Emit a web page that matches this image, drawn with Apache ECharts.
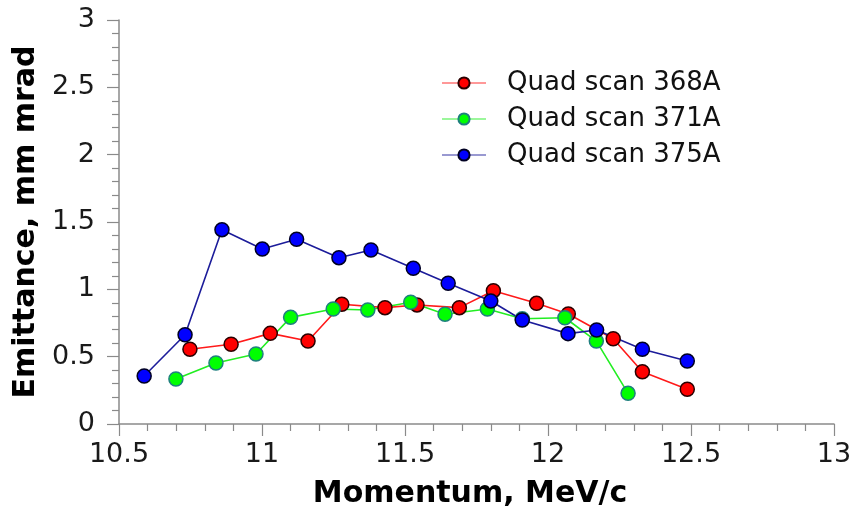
<!DOCTYPE html>
<html>
<head>
<meta charset="utf-8">
<script src="https://cdn.jsdelivr.net/npm/echarts@6/dist/echarts.min.js"></script>
<style>
  html, body { margin: 0; padding: 0; background: #ffffff; }
  #chart { width: 854px; height: 507px; }
</style>
</head>
<body>
<div id="chart"></div>
<script>
// Emittance versus beam momentum for three quadrupole scans
const seriesNames = ['Quad scan 368A', 'Quad scan 371A', 'Quad scan 375A'];

const scan368 = [
  [10.748, 0.555], [10.892, 0.592], [11.029, 0.673], [11.161, 0.616],
  [11.279, 0.889], [11.430, 0.864], [11.542, 0.884], [11.690, 0.864],
  [11.809, 0.990], [11.960, 0.896], [12.071, 0.817], [12.228, 0.633],
  [12.330, 0.388], [12.487, 0.258]
];

const scan371 = [
  [10.699, 0.334], [10.839, 0.453], [10.979, 0.520], [11.100, 0.792],
  [11.249, 0.854], [11.370, 0.847], [11.520, 0.904], [11.640, 0.815],
  [11.788, 0.854], [11.910, 0.782], [12.059, 0.789], [12.169, 0.616],
  [12.280, 0.228]
];

const scan375 = [
  [10.588, 0.356], [10.731, 0.663], [10.860, 1.443], [11.001, 1.299],
  [11.121, 1.372], [11.269, 1.235], [11.381, 1.292], [11.529, 1.156],
  [11.651, 1.045], [11.800, 0.913], [11.910, 0.772], [12.070, 0.671],
  [12.170, 0.698], [12.330, 0.555], [12.487, 0.468]
];

const FONT = 'DejaVu Sans';
const axisGrey = '#8a8a8a';

function makeSeries(name, data, fill, border, line) {
  return {
    name: name,
    type: 'line',
    data: data,
    symbol: 'circle',
    symbolSize: 14,
    itemStyle: { color: fill, borderColor: border, borderWidth: 1.5 },
    lineStyle: { color: line, width: 1.6 },
    emphasis: { disabled: true },
    animation: false
  };
}

const chart = echarts.init(document.getElementById('chart'), null, { renderer: 'canvas' });

chart.setOption({
  backgroundColor: '#ffffff',
  animation: false,
  grid: {
    left: 119, right: 20, top: 20, bottom: 83,
    containLabel: false, outerBoundsMode: 'none'
  },
  legend: {
    orient: 'vertical',
    left: 436,
    top: 65,
    itemWidth: 44,
    itemHeight: 14,
    itemGap: 10,
    textStyle: { fontFamily: FONT, fontSize: 26, color: '#111', padding: [0, 0, 0, 16] },
    lineStyle: { opacity: 0.45, width: 2 },
    data: seriesNames
  },
  xAxis: {
    type: 'value',
    min: 10.5,
    max: 13,
    interval: 0.5,
    name: 'Momentum, MeV/c',
    nameLocation: 'middle',
    nameGap: 55,
    nameTextStyle: {
      fontFamily: FONT, fontSize: 30, fontWeight: 'bold', color: '#000',
      padding: [0, 13, 0, 0]
    },
    axisLine: { show: true, onZero: false, lineStyle: { color: axisGrey, width: 1.5 } },
    axisTick: { show: true, length: 12, lineStyle: { color: axisGrey, width: 1.2 } },
    minorTick: { show: true, splitNumber: 5, length: 7, lineStyle: { color: axisGrey, width: 1.2 } },
    splitLine: { show: false },
    axisLabel: {
      fontFamily: FONT, fontSize: 27, color: '#1a1a1a', margin: 17,
      formatter: v => String(+v.toFixed(1))
    }
  },
  yAxis: {
    type: 'value',
    min: 0,
    max: 3,
    interval: 0.5,
    name: 'Emittance, mm mrad',
    nameLocation: 'middle',
    nameGap: 78,
    nameTextStyle: { fontFamily: FONT, fontSize: 30, fontWeight: 'bold', color: '#000' },
    axisLine: { show: true, onZero: false, lineStyle: { color: axisGrey, width: 1.5 } },
    axisTick: { show: true, length: 12, lineStyle: { color: axisGrey, width: 1.2 } },
    minorTick: { show: true, splitNumber: 5, length: 7, lineStyle: { color: axisGrey, width: 1.2 } },
    splitLine: { show: false },
    axisLabel: {
      fontFamily: FONT, fontSize: 27, color: '#1a1a1a', margin: 24,
      formatter: v => String(+v.toFixed(1))
    }
  },
  series: [
    makeSeries(seriesNames[0], scan368, '#ff0000', '#2a0000', '#ff1a1a'),
    makeSeries(seriesNames[1], scan371, '#00ff00', '#1f7f7f', '#22ee22'),
    makeSeries(seriesNames[2], scan375, '#0000ff', '#000022', '#1c1c9a')
  ]
});
</script>
</body>
</html>
